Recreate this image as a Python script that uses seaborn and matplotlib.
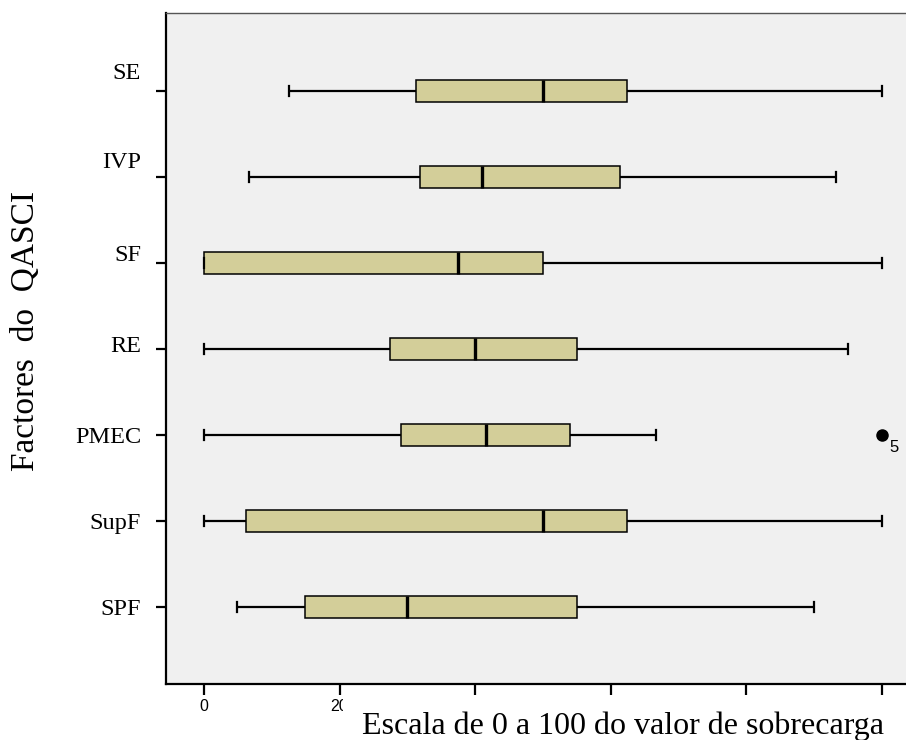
import matplotlib
matplotlib.use("Agg")
import matplotlib.pyplot as plt
import matplotlib.transforms as mtransforms
from matplotlib.patches import Rectangle
import seaborn as sns
import pandas as pd

# ---- data (box statistics) ----
factors = ["SE", "IVP", "SF", "RE", "PMEC", "SupF", "SPF"]
whisker_low = [12.5, 6.7, 0.0, 0.0, 0.0, 0.0, 4.9]
q1 = [31.25, 31.9, 0.0, 27.5, 29.1, 6.2, 14.9]
median = [50.0, 41.0, 37.5, 40.0, 41.6, 50.0, 30.0]
q3 = [62.5, 61.4, 50.0, 55.0, 54.0, 62.5, 55.0]
whisker_high = [100.0, 93.3, 100.0, 95.0, 66.7, 100.0, 90.0]
outlier_factor = "PMEC"
outlier_value = 100.0
outlier_label = "5"
x_ticks = [0, 20, 40, 60, 80, 100]
x_ticklabels = ["0", "20", "", "", "", ""]
label_shift_px = [20, 17, 10, 5, 0, 0, 0]

# Build a small long-format table whose quartiles reproduce the stats
rows = []
for i, f in enumerate(factors):
    if f == outlier_factor:
        vals = [whisker_low[i], q1[i], q1[i], median[i], median[i],
                q3[i], q3[i], whisker_high[i], outlier_value]
    else:
        vals = [whisker_low[i], q1[i], median[i], q3[i], whisker_high[i]]
    for v in vals:
        rows.append({"factor": f, "valor": v})
df = pd.DataFrame(rows)

fig = plt.figure(figsize=(9.06, 7.40), dpi=100)
ax = fig.add_axes([166 / 906, 1 - 684 / 740, (912 - 166) / 906, (684 - 13) / 740])
ax.set_facecolor("#F0F0F0")

sns.boxplot(
    data=df, x="valor", y="factor", order=factors, orient="h",
    color="#D3CE99", saturation=1, width=0.25, linecolor="black",
    linewidth=1.1, whis=1.5, ax=ax,
    medianprops=dict(linewidth=2.4, color="black"),
    whiskerprops=dict(linewidth=1.6, color="black"),
    capprops=dict(linewidth=1.6, color="black"),
    flierprops=dict(marker="o", markerfacecolor="black",
                    markeredgecolor="black", markersize=8),
)

# outlier case label
ax.annotate(outlier_label, xy=(outlier_value, factors.index(outlier_factor)),
            xytext=(6, -9), textcoords="offset points",
            ha="left", va="center", fontsize=12, family="Liberation Sans")

px_per_unit = (881.5 - 204) / 100
ax.set_xlim((166 - 204) / px_per_unit, (912 - 204) / px_per_unit)
ax.set_ylim(6 + (684 - 607) / 86, (13 - 91) / 86)

ax.set_xticks(x_ticks)
ax.set_xticklabels(x_ticklabels, fontsize=11.5, family="Liberation Sans")
ax.tick_params(axis="x", length=8, width=1.6, pad=3, color="black")
ax.tick_params(axis="y", length=7, width=1.6, pad=11, color="black")
for lab in ax.get_yticklabels():
    lab.set_fontfamily("Liberation Serif")
    lab.set_fontsize(17.5)
for lab, dy in zip(ax.get_yticklabels(), label_shift_px):
    off = mtransforms.ScaledTranslation(0, dy / 100, fig.dpi_scale_trans)
    lab.set_transform(lab.get_transform() + off)

ax.set_xlabel("")
ax.set_ylabel("")
ax.grid(False)
for side in ["left", "bottom", "top", "right"]:
    ax.spines[side].set_visible(True)
    ax.spines[side].set_color("black")
ax.spines["left"].set_linewidth(1.6)
ax.spines["bottom"].set_linewidth(1.6)
ax.spines["top"].set_linewidth(1.0)
ax.spines["top"].set_color("#555555")

# white cover that clips the x tick labels (as in the reference)
fig.patches.append(Rectangle((343 / 906, 0), 1, (740 - 697) / 740,
                             transform=fig.transFigure, facecolor="white",
                             edgecolor="none", zorder=1))

fig.text(362 / 906, 1 - 734 / 740, "Escala de 0 a 100 do valor de sobrecarga",
         ha="left", va="baseline", fontsize=23, family="Liberation Serif",
         zorder=2)
fig.text(26 / 906, 1 - 331 / 740, "Factores  do  QASCI", rotation=90,
         ha="center", va="center", fontsize=24, family="Liberation Serif",
         zorder=2)

fig.savefig("out.png", dpi=100, facecolor="white")
